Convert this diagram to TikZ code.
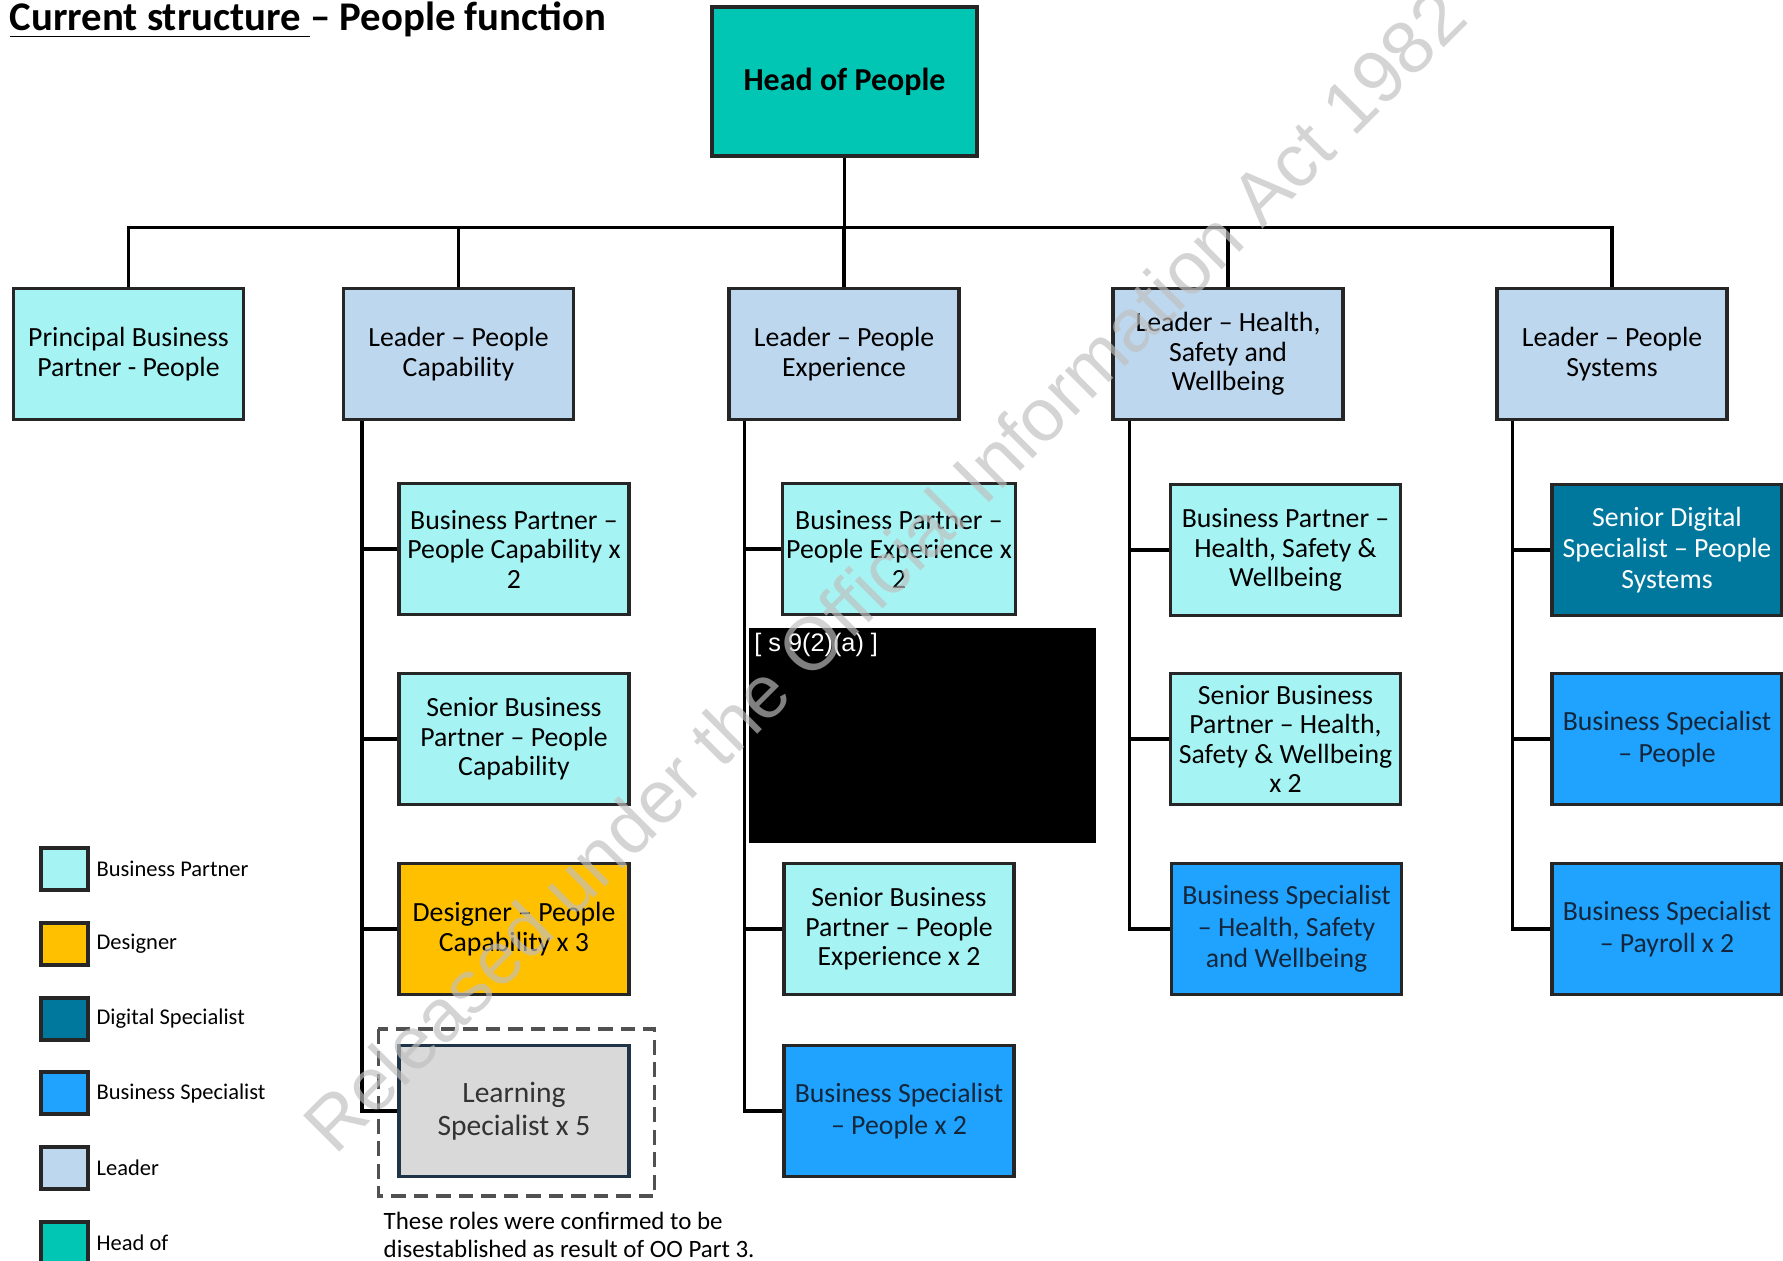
\documentclass[tikz,border=0pt]{standalone}
\usepackage{fontspec}
\setmainfont{Carlito}
\newfontfamily\stampfont{Liberation Sans}
\usetikzlibrary{positioning}
\definecolor{cHead}{HTML}{00C6B3}
\definecolor{cPart}{HTML}{A5F4F3}
\definecolor{cLead}{HTML}{BDD7EE}
\definecolor{cDsgn}{HTML}{FFC000}
\definecolor{cDigi}{HTML}{00789E}
\definecolor{cSpec}{HTML}{1FA3FF}
\definecolor{cLearn}{HTML}{D9D9D9}
\definecolor{cNavy}{HTML}{1F3447}
\definecolor{cInk}{HTML}{13263B}
\definecolor{edge}{HTML}{262626}
\tikzset{
  box/.style={draw=edge,line width=0.9pt,minimum width=2.3cm,minimum height=1.31cm,
    align=center,inner sep=1pt,font=\fontsize{7.9}{8.4}\selectfont},
  head/.style={box,fill=cHead,minimum width=2.65cm,minimum height=1.49cm,line width=1.1pt,
    font=\bfseries\fontsize{9.1}{10}\selectfont},
  partner/.style={box,fill=cPart},
  leader/.style={box,fill=cLead},
  designer/.style={box,fill=cDsgn},
  digital/.style={box,fill=cDigi,text=white,font=\fontsize{7.9}{8.9}\selectfont},
  special/.style={box,fill=cSpec,text=cInk,font=\fontsize{7.9}{8.9}\selectfont},
  learning/.style={box,fill=cLearn,draw=cNavy,text=black!80,font=\fontsize{8.4}{9.5}\selectfont},
  link/.style={line width=0.9pt,line join=miter},
  key/.style={draw=edge,line width=1.1pt,minimum width=0.47cm,minimum height=0.42cm,inner sep=0},
  keytext/.style={font=\fontsize{6.4}{7}\selectfont,inner sep=0},
  stamp/.style={anchor=base,rotate=45,inner sep=0,text=gray!50,text opacity=0.67,
    font=\stampfont\fontsize{21.2}{21.2}\selectfont}
}

\begin{document}
\begin{tikzpicture}[x=0.1mm,y=-0.1mm]
  \useasboundingbox (0,0) rectangle (1783,1261);
  \node[anchor=base west,inner sep=0,font=\bfseries\fontsize{11.6}{12}\selectfont] (title) at (9,31)
    {\underline{Current structure\ }– People function};

  % top of the tree
  \node[head] (hop) at (844.5,81.5) {Head of People};
  \node[partner] (pbp) at (128.5,354) {Principal Business\\Partner - People};
  \node[leader] (lpc) at (458.5,354) {Leader – People\\Capability};
  \node[leader] (lpe) at (844,354) {Leader – People\\Experience};
  \node[leader] (lhs) at (1228,354) {Leader – Health,\\Safety and\\Wellbeing};
  \node[leader] (lps) at (1612,354) {Leader – People\\Systems};

  % people capability
  \node[partner] (bppc) at (514,549) {Business Partner –\\People Capability x\\2};
  \node[partner] (sbppc) at (514,739) {Senior Business\\Partner – People\\Capability};
  \node[designer] (dspc) at (514,929) {Designer – People\\Capability x 3};
  \node[learning] (lspc) at (514,1111) {Learning\\Specialist x 5};
  \draw[edge!80,line width=1pt,dash pattern=on 4.2pt off 2.2pt]
    ([shift={(-1.9mm,1.5mm)}]lspc.north west) rectangle ([shift={(2.4mm,-1.8mm)}]lspc.south east);
  \node[anchor=north west,align=left,inner sep=0,font=\fontsize{7.1}{8}\selectfont] (note) at (383,1211)
    {These roles were confirmed to be\\disestablished as result of OO Part 3.};

  % people experience
  \node[partner] (bppe) at (899,549) {Business Partner –\\People Experience x\\2};
  \node[fill=black,minimum width=3.47cm,minimum height=2.15cm,inner sep=0] (rdx) at (922.5,735.5) {};
  \node[anchor=north west,inner sep=1.5pt,text=white,font=\stampfont\fontsize{7.2}{8}\selectfont] at (rdx.north west) {[ s 9(2)(a) ]};
  \node[partner] (sbppe) at (899,929) {Senior Business\\Partner – People\\Experience x 2};
  \node[special] (bspe) at (899,1111) {Business Specialist\\– People x 2};

  % health, safety and wellbeing
  \node[partner] (bphs) at (1285.5,550) {Business Partner –\\Health, Safety \&\\Wellbeing};
  \node[partner] (sbphs) at (1285.5,739) {Senior Business\\Partner – Health,\\Safety \& Wellbeing\\x 2};
  \node[special] (bshs) at (1286.5,929) {Business Specialist\\– Health, Safety\\and Wellbeing};

  % people systems
  \node[digital] (sdps) at (1667,550) {Senior Digital\\Specialist – People\\Systems};
  \node[special] (bsps) at (1667,739) {Business Specialist\\– People};
  \node[special] (bspay) at (1667,929) {Business Specialist\\– Payroll x 2};

  % lines
  \coordinate (bus) at (844.5,227.5);
  \draw[link] (pbp.north) |- (bus) -| (lps.north);
  \draw[link] (hop.south) -- (bus);
  \foreach \n in {lpc,lpe,lhs} \draw[link] (\n.north) -- (\n.north |- bus);
  \foreach \l/\last/\dx in {lpc/lspc/2mm,lpe/bspe/1.7mm,lhs/bshs/1.8mm,lps/bspay/1.7mm}{
    \coordinate (\l-s) at ([xshift=\dx]\l.south west);
    \draw[link] (\l-s) |- (\last.west);
  }
  \foreach \l/\k in {lpc/bppc,lpc/sbppc,lpc/dspc,lpe/bppe,lpe/sbppe,lhs/bphs,lhs/sbphs,lps/sdps,lps/bsps}
    \draw[link] (\k.west) -- (\k.west -| \l-s);

  % legend
  \foreach \c/\t [count=\i from 0] in {cPart/Business Partner,cDsgn/Designer,cDigi/Digital Specialist,
      cSpec/Business Specialist,cLead/Leader,cHead/Head of}{
    \node[key,fill=\c] (key\i) at (64.5,869+74.8*\i) {};
    \node[keytext,right=0.6mm of key\i] (keytxt\i) {\t};
  }

  \node[stamp] (stamp) at (903,589) {Released under the Official Information Act 1982};
\end{tikzpicture}
\end{document}
